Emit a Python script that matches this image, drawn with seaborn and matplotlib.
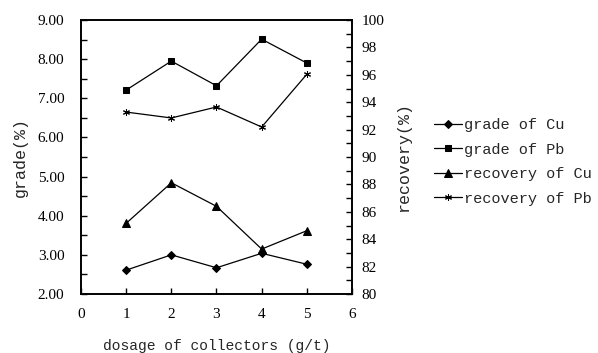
import numpy as np
import matplotlib
matplotlib.use('Agg')
import matplotlib.pyplot as plt
import seaborn as sns
import pandas as pd
from matplotlib.ticker import MultipleLocator, FormatStrFormatter

dosage = [1, 2, 3, 4, 5]
grade_cu = [2.61, 3.00, 2.67, 3.04, 2.76]
grade_pb = [7.21, 7.95, 7.32, 8.51, 7.90]
recovery_cu = [85.16, 88.12, 86.40, 83.28, 84.62]
recovery_pb = [93.28, 92.85, 93.65, 92.19, 96.04]

sns.set_theme(style='white')
plt.rcParams['font.family'] = ['Liberation Serif', 'DejaVu Serif']

df = pd.DataFrame({'dosage': dosage, 'grade_cu': grade_cu, 'grade_pb': grade_pb,
                   'recovery_cu': recovery_cu, 'recovery_pb': recovery_pb})

fig = plt.figure(figsize=(5.98, 3.53), dpi=100)
ax = fig.add_axes([81 / 598, 59 / 353, 271 / 598, 274 / 353])
ax2 = ax.twinx()

mono = 'Liberation Mono'
kw = dict(color='black', linewidth=0.9, markeredgecolor='black', markerfacecolor='black')
sns.lineplot(data=df, x='dosage', y='grade_cu', ax=ax, marker='D', markersize=4.5,
             label='grade of Cu', legend=False, **kw)
sns.lineplot(data=df, x='dosage', y='grade_pb', ax=ax, marker='s', markersize=5,
             label='grade of Pb', legend=False, **kw)
sns.lineplot(data=df, x='dosage', y='recovery_cu', ax=ax2, marker='^', markersize=6,
             label='recovery of Cu', legend=False, **kw)
sns.lineplot(data=df, x='dosage', y='recovery_pb', ax=ax2, marker=(6, 2, 0), markersize=5,
             label='recovery of Pb', legend=False, **kw)

ax.set_xlim(0, 6)
ax.set_ylim(2, 9)
ax2.set_ylim(80, 100)
ax.xaxis.set_major_locator(MultipleLocator(1))
ax.yaxis.set_major_locator(MultipleLocator(1))
ax.yaxis.set_minor_locator(MultipleLocator(0.5))
ax.yaxis.set_major_formatter(FormatStrFormatter('%.2f'))
ax2.yaxis.set_major_locator(MultipleLocator(2))
ax2.yaxis.set_minor_locator(MultipleLocator(1))

for a in (ax, ax2):
    for s in a.spines.values():
        s.set_color('black')
        s.set_linewidth(1.2)

ax.tick_params(axis='y', which='both', direction='in', left=True, length=4, width=1,
               labelsize=11, pad=12, colors='black')
ax.tick_params(axis='x', which='both', direction='in', bottom=True, length=4, width=1,
               labelsize=11, pad=10, colors='black')
ax2.tick_params(axis='y', which='both', direction='in', right=True, length=4, width=1,
                labelsize=11, pad=7, colors='black')

ax.set_xlabel('dosage of collectors (g/t)', fontfamily=mono, fontsize=10.5, labelpad=13)
ax.set_ylabel('grade(%)', fontfamily=mono, fontsize=12, labelpad=7)
ax2.set_ylabel('recovery(%)', fontfamily=mono, fontsize=12, labelpad=8)

h1, l1 = ax.get_legend_handles_labels()
h2, l2 = ax2.get_legend_handles_labels()
fig.legend(h1 + h2, l1 + l2, loc='center left', bbox_to_anchor=(428 / 598, 1 - 162 / 353),
           frameon=False, prop={'family': mono, 'size': 11}, handlelength=1.8,
           handletextpad=0.15, labelspacing=0.68, borderaxespad=0)

fig.savefig('out.png', dpi=100)
